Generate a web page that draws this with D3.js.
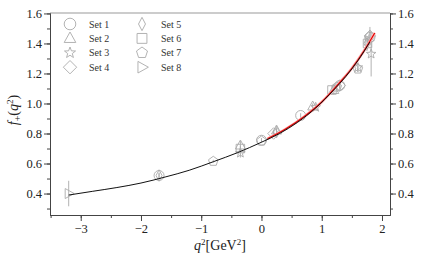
<!DOCTYPE html>
<html><head><meta charset="utf-8">
<script src="https://cdn.jsdelivr.net/npm/d3@7"></script>
<style>body{margin:0;background:#fff}svg{display:block}</style>
</head><body>
<svg id="c" width="424" height="262"></svg>
<script>
// ---- data ----
const xTicks = [-3, -2, -1, 0, 1, 2];
const yTicks = [0.4, 0.6, 0.8, 1.0, 1.2, 1.4, 1.6];
const setNames = ["Set 1","Set 2","Set 3","Set 4","Set 5","Set 6","Set 7","Set 8"];
const setShapes = ["circle","triUp","star","diamond","thinDiamond","square","pentagon","triRight"];
// points: [q2, f, err]
const set1 = [[-1.7,0.52,0.015],[0.0,0.755,0.015],[0.65,0.92,0.015],[1.3,1.12,0.02],[1.8,1.44,0.05]];
const set2 = [[-0.35,0.72,0.03],[0.25,0.82,0.02],[0.85,0.98,0.02],[1.2,1.09,0.03]];
const set3 = [[-0.35,0.67,0.03],[0.9,0.975,0.02],[1.6,1.24,0.03],[1.82,1.33,0.15]];
const set4 = [[0.2,0.80,0.02],[1.3,1.12,0.03],[1.8,1.45,0.06]];
const set5 = [[-1.7,0.52,0.02],[0.25,0.81,0.02],[1.75,1.40,0.05]];
const set6 = [[-0.35,0.70,0.02],[1.17,1.09,0.03],[1.76,1.40,0.04]];
const set7 = [[-0.8,0.615,0.01],[0.0,0.75,0.01],[1.25,1.11,0.02],[1.6,1.23,0.02]];
const set8 = [[-3.2,0.40,0.085],[1.78,1.42,0.04]];
const fitQ2 = [-3.2,-2.8,-2.4,-2.0,-1.6,-1.2,-0.8,-0.4,0,0.3,0.6,0.9,1.2,1.4,1.6,1.8];
const fitF  = [0.39,0.415,0.44,0.47,0.51,0.555,0.612,0.672,0.742,0.80,0.875,0.97,1.09,1.18,1.285,1.41];
const redQ2 = [0.1,0.4,0.7,1.0,1.3,1.5,1.7,1.88];
const redF  = [0.765,0.83,0.91,1.01,1.14,1.235,1.35,1.47];

const sets = [set1,set2,set3,set4,set5,set6,set7,set8];

// ---- layout ----
const svg = d3.select("#c");
const L=50,R=390,T=13,B=215;
const x = d3.scaleLinear().domain([-3.51,2.133]).range([L,R]);
const y = d3.scaleLinear().domain([0.257,1.603]).range([B,T]);
const FONT = '"Liberation Serif", "DejaVu Serif", serif';
const axisCol = "#444";
const markCol = "#aaa";

function shapePath(s, r){
  const p = d3.path();
  const poly = (pts)=>{pts.forEach((q,i)=> i? p.lineTo(q[0],q[1]) : p.moveTo(q[0],q[1])); p.closePath();};
  if(s==="circle"){ p.arc(0,0,r,0,2*Math.PI); }
  else if(s==="triUp"){ poly([[0,-r*1.1],[r,r*0.7],[-r,r*0.7]]); }
  else if(s==="triRight"){ poly([[r*1.1,0],[-r*0.7,-r],[-r*0.7,r]]); }
  else if(s==="square"){ poly([[-r*0.85,-r*0.85],[r*0.85,-r*0.85],[r*0.85,r*0.85],[-r*0.85,r*0.85]]); }
  else if(s==="diamond"){ poly([[0,-r*1.15],[r*1.15,0],[0,r*1.15],[-r*1.15,0]]); }
  else if(s==="thinDiamond"){ poly([[0,-r*1.15],[r*0.6,0],[0,r*1.15],[-r*0.6,0]]); }
  else if(s==="pentagon"){ poly(d3.range(5).map(i=>{const a=-Math.PI/2+i*2*Math.PI/5;return [r*Math.cos(a),r*Math.sin(a)];})); }
  else if(s==="star"){ poly(d3.range(10).map(i=>{const a=-Math.PI/2+i*Math.PI/5;const rr=i%2?r*0.42:r;return [rr*Math.cos(a),rr*Math.sin(a)];})); }
  return p.toString();
}

// frame
svg.append("line").attr("x1",L).attr("x2",R).attr("y1",T).attr("y2",T).attr("stroke","#999").attr("stroke-width",1);

// axes
const fmtY = d3.format(".1f");
const fmtX = d=> d<0 ? "\u2212"+Math.abs(d) : String(d);
function styleAxis(g){
  g.attr("font-family",FONT);
  g.selectAll("path.domain").attr("stroke",axisCol).attr("stroke-width",1);
  g.selectAll(".tick line").attr("stroke",axisCol).attr("stroke-width",1);
  g.selectAll("text").style("font-family",FONT).style("font-size","12.5px").attr("fill","#222");
}
const yMinor = d3.range(0.3,1.61,0.1).map(v=>+v.toFixed(2));
const xMinor = d3.range(-3.5,2.01,0.5).map(v=>+v.toFixed(2));

const gl = svg.append("g").attr("transform",`translate(${L},0)`)
  .call(d3.axisLeft(y).tickValues(yMinor).tickSize(3).tickFormat("").tickSizeOuter(0));
styleAxis(gl);
const glM = svg.append("g").attr("transform",`translate(${L},0)`)
  .call(d3.axisLeft(y).tickValues(yTicks).tickSize(6).tickPadding(2).tickFormat(fmtY).tickSizeOuter(0));
styleAxis(glM);
const gr = svg.append("g").attr("transform",`translate(${R},0)`)
  .call(d3.axisRight(y).tickValues(yMinor).tickSize(3).tickFormat("").tickSizeOuter(0));
styleAxis(gr);
const grM = svg.append("g").attr("transform",`translate(${R},0)`)
  .call(d3.axisRight(y).tickValues(yTicks).tickSize(6).tickPadding(2).tickFormat(fmtY).tickSizeOuter(0));
styleAxis(grM);
const gb = svg.append("g").attr("transform",`translate(0,${B})`)
  .call(d3.axisBottom(x).tickValues(xMinor).tickSize(3).tickFormat("").tickSizeOuter(0));
styleAxis(gb);
const gbM = svg.append("g").attr("transform",`translate(0,${B})`)
  .call(d3.axisBottom(x).tickValues(xTicks).tickSize(6).tickPadding(3).tickFormat(fmtX).tickSizeOuter(0));
styleAxis(gbM);

// axis labels
const yl = svg.append("text").attr("transform","translate(18,110) rotate(-90)")
  .attr("text-anchor","middle").style("font-family",FONT).style("font-size","14px").attr("fill","#222");
yl.append("tspan").attr("font-style","italic").text("f");
yl.append("tspan").attr("font-size",10).attr("dy",3).text("+");
yl.append("tspan").attr("dy",-3).text("(");
yl.append("tspan").attr("font-style","italic").text("q");
yl.append("tspan").attr("font-size",9).attr("dy",-5).text("2");
yl.append("tspan").attr("dy",5).text(")");

const xl = svg.append("text").attr("x",220).attr("y",250)
  .attr("text-anchor","middle").style("font-family",FONT).style("font-size","14px").attr("fill","#222");
xl.append("tspan").attr("font-style","italic").text("q");
xl.append("tspan").attr("font-size",9).attr("dy",-5).text("2");
xl.append("tspan").attr("dy",5).text("[GeV");
xl.append("tspan").attr("font-size",9).attr("dy",-5).text("2");
xl.append("tspan").attr("dy",5).text("]");

// data points
const gp = svg.append("g");
sets.forEach((pts,si)=>{
  pts.forEach(d=>{
    gp.append("line").attr("x1",x(d[0])).attr("x2",x(d[0]))
      .attr("y1",y(d[1]-d[2])).attr("y2",y(d[1]+d[2]))
      .attr("stroke",markCol).attr("stroke-width",0.9);
    gp.append("path").attr("d",shapePath(setShapes[si],5))
      .attr("transform",`translate(${x(d[0])},${y(d[1])})`)
      .attr("fill","none").attr("stroke",markCol).attr("stroke-width",0.9);
  });
});

// fit curves
const line = d3.line().x(d=>x(d[0])).y(d=>y(d[1])).curve(d3.curveMonotoneX);
const fit = fitQ2.map((q,i)=>[q,fitF[i]]);
const red = redQ2.map((q,i)=>[q,redF[i]]);
svg.append("path").attr("d",line(red)).attr("fill","none").attr("stroke","#ffaaaa").attr("stroke-width",2.6);
svg.append("path").attr("d",line(red)).attr("fill","none").attr("stroke","#e00000").attr("stroke-width",1.1);
svg.append("path").attr("d",line(fit)).attr("fill","none").attr("stroke","#111").attr("stroke-width",1.0);

// legend
const lg = svg.append("g");
setNames.forEach((n,i)=>{
  const col = Math.floor(i/4), row = i%4;
  const sx = col ? 142 : 70, tx = col ? 161 : 89, cy = 24 + row*14.4;
  lg.append("path").attr("d",shapePath(setShapes[i],5.8)).attr("transform",`translate(${sx},${cy})`)
    .attr("fill","none").attr("stroke",markCol).attr("stroke-width",0.9);
  lg.append("text").attr("x",tx).attr("y",cy+3.5).style("font-family",FONT).style("font-size","10px").attr("fill","#333").text(n);
});
</script>
</body></html>
